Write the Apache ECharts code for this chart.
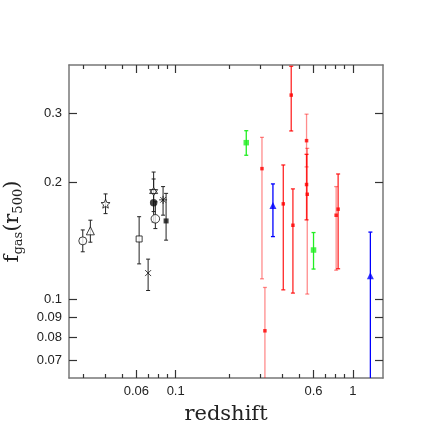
<!DOCTYPE html>
<html><head><meta charset="utf-8">
<script src="https://cdn.jsdelivr.net/npm/echarts@6/dist/echarts.min.js"></script>
<style>html,body{margin:0;padding:0;background:#fff}#c{width:447px;height:447px}</style>
</head><body><div id="c"></div>
<script>
// ---- data (redshift z, f_gas, lower, upper) ----
const blackZ  = [0.0299, 0.0330, 0.0402, 0.0622, 0.0699, 0.0751, 0.0751, 0.0768, 0.0849, 0.0883];
const blackF  = [0.1414, 0.150, 0.176, 0.143, 0.117, 0.189, 0.177, 0.161, 0.180, 0.159];
const blackLo = [0.1326, 0.1403, 0.166, 0.1235, 0.1056, 0.168, 0.158, 0.152, 0.1645, 0.142];
const blackHi = [0.1508, 0.1597, 0.1864, 0.163, 0.127, 0.212, 0.2035, 0.178, 0.1946, 0.187];

const redPaleZ  = [0.307, 0.319, 0.548, 0.553, 0.805];
const redPaleF  = [0.2163, 0.0833, 0.255, 0.186, 0.1644];
const redPaleLo = [0.1131, 0.05, 0.2185, 0.1034, 0.119];
const redPaleHi = [0.260, 0.1075, 0.298, 0.2437, 0.1946];

const redZ  = [0.405, 0.449, 0.459, 0.548, 0.826];
const redF  = [0.1758, 0.3334, 0.155, 0.197, 0.1704];
const redLo = [0.106, 0.270, 0.104, 0.160, 0.120];
const redHi = [0.221, 0.395, 0.192, 0.2353, 0.2096];

const greenZ  = [0.2503, 0.600];
const greenF  = [0.252, 0.134];
const greenLo = [0.234, 0.1198];
const greenHi = [0.2704, 0.1485];

const blueZ  = [0.354, 1.256];
const blueF  = [0.174, 0.1151];
const blueLo = [0.145, 0.05];
const blueHi = [0.1977, 0.1489];

const xMajorTicks = [0.06, 0.1, 0.6, 1];
const xMinorTicks = [0.03, 0.04, 0.05, 0.07, 0.08, 0.09, 0.2, 0.3, 0.4, 0.5, 0.7, 0.8, 0.9];
const yTicks = [0.07, 0.08, 0.09, 0.1, 0.2, 0.3];

// ---- styling ----
const starPath = (function(){
  let s = 'path://';
  for (let i = 0; i < 10; i++) {
    const r = i % 2 === 0 ? 50 : 22;
    const a = -Math.PI / 2 + i * Math.PI / 5;
    s += (i === 0 ? 'M' : 'L') + (50 + r * Math.cos(a)).toFixed(2) + ',' + (50 + r * Math.sin(a)).toFixed(2);
  }
  return s + 'Z';
})();
const hexPath = 'path://M50,0L93.3,75L6.7,75Z M50,100L6.7,25L93.3,25Z';
const crossPath = 'path://M0,0L100,100M100,0L0,100';
const astPath = 'path://M50,0L50,100M0,50L100,50M15,15L85,85M85,15L15,85';
const blackSymbols = [
  {s:'circle', size:8, fill:false},
  {s:'triangle', size:8, fill:false},
  {s:starPath, size:9, fill:false},
  {s:'rect', size:6, fill:false},
  {s:crossPath, size:6, fill:false},
  {s:hexPath, size:8, fill:false},
  {s:'circle', size:7.5, fill:true},
  {s:'circle', size:8.5, fill:false},
  {s:astPath, size:8, fill:false},
  {s:'rect', size:5, fill:true}
];

const frameColor = '#777';
const fmt = v => String(+(+v).toPrecision(3));

function errSeries(zs, los, his, color, lw, cap) {
  return {
    type: 'custom', xAxisIndex: 0, yAxisIndex: 0, clip: true, z: 2,
    data: zs.map((z, i) => [z, los[i], his[i]]),
    encode: {x: 0, y: [1, 2]},
    renderItem: function (params, api) {
      const x = api.value(0);
      const pLo = api.coord([x, api.value(1)]);
      const pHi = api.coord([x, api.value(2)]);
      const st = {stroke: color, lineWidth: lw};
      return {type: 'group', children: [
        {type: 'line', shape: {x1: pHi[0], y1: pHi[1], x2: pLo[0], y2: pLo[1]}, style: st},
        {type: 'line', shape: {x1: pHi[0] - cap, y1: pHi[1], x2: pHi[0] + cap, y2: pHi[1]}, style: st},
        {type: 'line', shape: {x1: pLo[0] - cap, y1: pLo[1], x2: pLo[0] + cap, y2: pLo[1]}, style: st}
      ]};
    }
  };
}
function pts(zs, fs, symbol, size, color, filled) {
  return {
    type: 'scatter', xAxisIndex: 0, yAxisIndex: 0, z: 3,
    symbol: symbol, symbolSize: size,
    data: zs.map((z, i) => [z, fs[i]]),
    itemStyle: filled ? {color: color} : {color: '#fff', borderColor: color, borderWidth: 1},
    emphasis: {disabled: true}, silent: true
  };
}

const series = [];
series.push(errSeries(blackZ, blackLo, blackHi, '#222', 1, 2));
series.push(errSeries(redPaleZ, redPaleLo, redPaleHi, 'rgba(255,0,0,0.45)', 1.3, 2));
series.push(errSeries(redZ, redLo, redHi, 'rgba(255,0,0,0.85)', 1.3, 2));
series.push(errSeries(greenZ, greenLo, greenHi, '#22ee22', 1.3, 2));
series.push(errSeries(blueZ, blueLo, blueHi, '#0000ff', 1.3, 2));
blackZ.forEach((z, i) => {
  const m = blackSymbols[i];
  series.push(pts([z], [blackF[i]], m.s, m.size, '#111', m.fill));
});
series.push(pts(redPaleZ, redPaleF, 'rect', 3.5, '#ff0000', true));
series.push(pts(redZ, redF, 'rect', 3.5, '#ff0000', true));
series.push(pts(greenZ, greenF, 'rect', 5.5, '#22ee22', true));
series.push(pts(blueZ, blueF, 'triangle', 7, '#0000ff', true));

const X_MIN = 0.025, X_MAX = 1.48, Y_MIN = 0.0631, Y_MAX = 0.398;
const gridPos = {left: 69, top: 65, right: 64, bottom: 69, containLabel: false, outerBoundsMode: 'none'};
const lineSt = {color: frameColor, width: 1.5};
const tickSt = {color: '#333', width: 1.2};

function xAx(grid, pos, ticks, len, labels, name) {
  const o = {
    type: 'log', logBase: 10, gridIndex: grid, position: pos, min: X_MIN, max: X_MAX,
    axisLine: {show: grid === 0, lineStyle: lineSt},
    axisTick: {show: true, inside: true, length: len, customValues: ticks, lineStyle: tickSt},
    axisLabel: labels ? {show: true, customValues: ticks, formatter: fmt, margin: 7,
      fontFamily: 'Liberation Sans', fontSize: 13, color: '#222'} : {show: false},
    splitLine: {show: false}, minorTick: {show: false}
  };
  if (name) {
    o.name = name; o.nameLocation = 'middle'; o.nameGap = 26;
    o.nameTextStyle = {fontFamily: 'DejaVu Serif', fontSize: 21, color: '#222'};
  }
  return o;
}
function yAx(grid, pos, show, labels) {
  const o = {
    type: 'log', logBase: 10, gridIndex: grid, position: pos, min: Y_MIN, max: Y_MAX,
    axisLine: {show: show, lineStyle: lineSt},
    axisTick: {show: show, inside: true, length: 8, customValues: yTicks, lineStyle: tickSt},
    axisLabel: labels ? {show: true, customValues: yTicks, formatter: fmt, margin: 7,
      fontFamily: 'Liberation Sans', fontSize: 13, color: '#222'} : {show: false},
    splitLine: {show: false}, minorTick: {show: false}
  };
  if (labels) {
    o.name = '{m|f}{s|gas}{m|(r}{s|500}{m|)}';
    o.nameLocation = 'middle'; o.nameRotate = 90; o.nameGap = 44;
    o.nameTextStyle = {
      rich: {
        m: {fontFamily: 'DejaVu Serif', fontSize: 21, color: '#222', lineHeight: 24, verticalAlign: 'middle'},
        s: {fontFamily: 'DejaVu Serif', fontSize: 13, color: '#222', lineHeight: 24, verticalAlign: 'bottom', padding: [7, 0, 0, 0]}
      }
    };
  }
  return o;
}

const option = {
  animation: false,
  backgroundColor: '#fff',
  grid: [Object.assign({}, gridPos), Object.assign({}, gridPos)],
  xAxis: [
    xAx(0, 'bottom', xMajorTicks, 8, true, 'redshift'),
    xAx(0, 'top', xMajorTicks, 8, false),
    xAx(1, 'bottom', xMinorTicks, 4, false),
    xAx(1, 'top', xMinorTicks, 4, false)
  ],
  yAxis: [
    yAx(0, 'left', true, true),
    yAx(0, 'right', true, false),
    yAx(1, 'left', false, false),
    yAx(1, 'right', false, false)
  ],
  series: series
};
const chart = echarts.init(document.getElementById('c'), null, {renderer: 'canvas'});
chart.setOption(option);
</script>
</body></html>
